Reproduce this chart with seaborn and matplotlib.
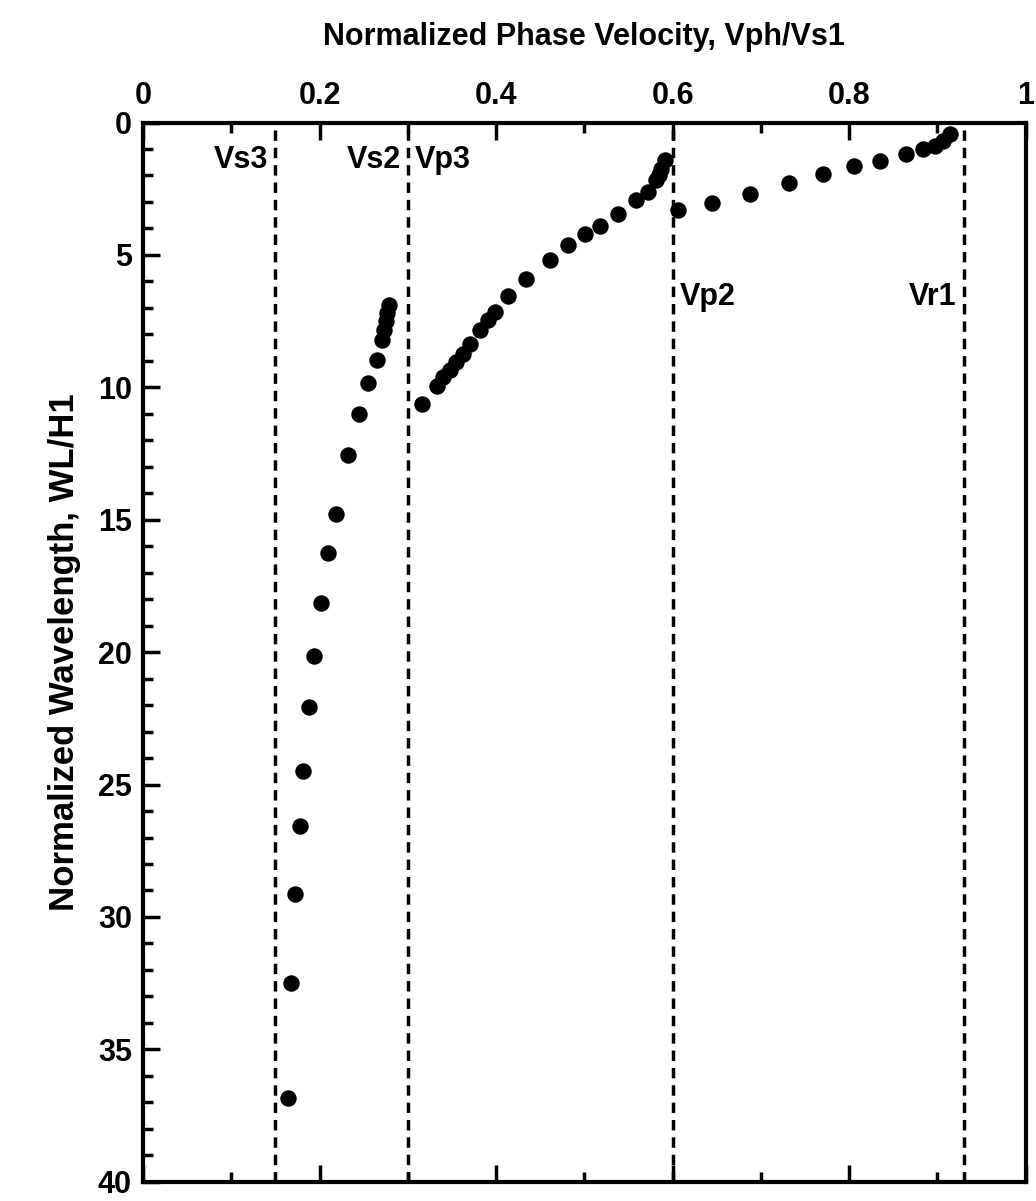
import numpy as np
import pandas as pd
import seaborn as sns
import matplotlib.pyplot as plt
from matplotlib.ticker import MultipleLocator

# branch near Vs2 (lower mode)
vel_a = [0.279, 0.277, 0.275, 0.273, 0.271, 0.265, 0.255, 0.245, 0.2325, 0.2186,
         0.210, 0.2016, 0.1933, 0.188, 0.1816, 0.178, 0.1725, 0.168, 0.164]
wl_a = [6.9, 7.2, 7.5, 7.85, 8.2, 8.98, 9.84, 10.99, 12.57, 14.77,
        16.24, 18.13, 20.15, 22.06, 24.5, 26.57, 29.13, 32.5, 36.84]

# branch between Vp3 and Vp2
vel_b = [0.3156, 0.3326, 0.340, 0.3477, 0.355, 0.363, 0.370, 0.3817, 0.391, 0.3986,
         0.4137, 0.4345, 0.461, 0.4817, 0.5006, 0.5175, 0.538, 0.559, 0.5723, 0.5817,
         0.585, 0.5874, 0.591]
wl_b = [10.62, 9.96, 9.61, 9.36, 9.04, 8.73, 8.35, 7.85, 7.47, 7.16,
        6.57, 5.9, 5.21, 4.64, 4.2, 3.89, 3.45, 2.94, 2.63, 2.19,
        2.0, 1.75, 1.43]

# branch toward Vr1
vel_c = [0.6063, 0.645, 0.6874, 0.732, 0.770, 0.806, 0.8354, 0.865, 0.884, 0.897,
         0.906, 0.914]
wl_c = [3.3, 3.05, 2.69, 2.29, 1.96, 1.66, 1.46, 1.18, 0.99, 0.87, 0.68, 0.45]

ref_names = ['Vs3', 'Vs2', 'Vp3', 'Vp2', 'Vr1']
ref_vel = [0.15, 0.30, 0.30, 0.60, 0.93]

df = pd.DataFrame({'vel': vel_a + vel_b + vel_c,
                   'wl': wl_a + wl_b + wl_c})

sns.set_style('ticks')
plt.rcParams['font.family'] = ['Liberation Sans', 'DejaVu Sans']
plt.rcParams['text.color'] = 'black'
plt.rcParams['axes.labelcolor'] = 'black'
plt.rcParams['xtick.color'] = 'black'
plt.rcParams['ytick.color'] = 'black'

fig = plt.figure(figsize=(10.36, 12.01), dpi=100)
ax = fig.add_axes([0.138, 0.016, 0.852, 0.882])

sns.scatterplot(data=df, x='vel', y='wl', ax=ax, color='black', s=140,
                edgecolor='black', linewidth=0, legend=False)

for v in sorted(set(ref_vel)):
    ax.axvline(v, color='black', ls=(0, (3, 2)), lw=2.5)

# line labels
ax.text(0.142, 1.4, 'Vs3', ha='right', va='center', fontsize=22, fontweight='bold')
ax.text(0.292, 1.4, 'Vs2', ha='right', va='center', fontsize=22, fontweight='bold')
ax.text(0.308, 1.4, 'Vp3', ha='left', va='center', fontsize=22, fontweight='bold')
ax.text(0.608, 6.6, 'Vp2', ha='left', va='center', fontsize=22, fontweight='bold')
ax.text(0.922, 6.6, 'Vr1', ha='right', va='center', fontsize=22, fontweight='bold')

ax.set_xlim(0, 1)
ax.set_ylim(40, 0)
ax.xaxis.set_major_locator(MultipleLocator(0.2))
ax.xaxis.set_minor_locator(MultipleLocator(0.1))
ax.yaxis.set_major_locator(MultipleLocator(5))
ax.yaxis.set_minor_locator(MultipleLocator(1))
ax.xaxis.tick_top()
ax.xaxis.set_label_position('top')
ax.set_xticks([0, 0.2, 0.4, 0.6, 0.8, 1], ['0', '0.2', '0.4', '0.6', '0.8', '1'])
ax.tick_params(which='both', direction='in', top=True, bottom=True, left=True, right=False,
               labelsize=22, width=2.5, pad=8)
ax.tick_params(which='major', length=12)
ax.tick_params(which='minor', length=7)
for lab in ax.get_xticklabels() + ax.get_yticklabels():
    lab.set_fontweight('bold')
for sp in ax.spines.values():
    sp.set_linewidth(3)
    sp.set_color('black')

ax.set_xlabel('Normalized Phase Velocity, Vph/Vs1', fontsize=22, fontweight='bold', labelpad=26)
ax.set_ylabel('Normalized Wavelength, WL/H1', fontsize=25, fontweight='bold', labelpad=12)

fig.savefig('out.png', dpi=100)
